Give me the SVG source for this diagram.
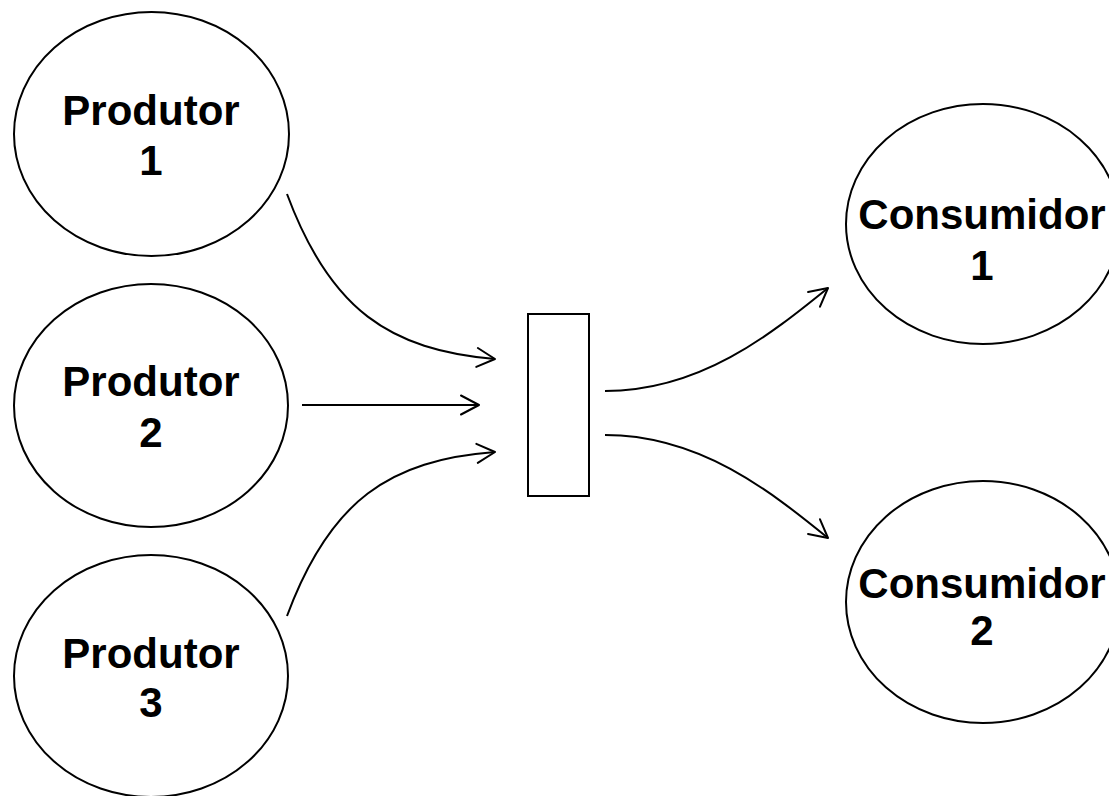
<svg xmlns="http://www.w3.org/2000/svg" width="1109" height="796" viewBox="0 0 1109 796">
<style>
.node{fill:#fff;stroke:#000;stroke-width:2}
.lbl{font-family:"Liberation Sans",Arial,sans-serif;font-weight:bold;font-size:42px;fill:#000;text-anchor:middle}
.edge{fill:none;stroke:#000;stroke-width:2}
</style>
<defs>
<marker id="arr" viewBox="-20 -11 22 22" refX="0" refY="0" markerWidth="22" markerHeight="22" markerUnits="userSpaceOnUse" orient="auto" overflow="visible">
<path d="M-18,-9.5 L0,0 L-18,9.5" fill="none" stroke="#000" stroke-width="2" stroke-linejoin="round" stroke-linecap="round"/>
</marker>
</defs>
<rect width="1109" height="796" fill="#fff"/>
<g id="produtor1"><ellipse class="node" cx="151.5" cy="134" rx="137.5" ry="122"/><text class="lbl" x="151" y="125">Produtor</text><text class="lbl" x="151" y="175">1</text></g>
<g id="produtor2"><ellipse class="node" cx="151" cy="405.5" rx="137" ry="121.5"/><text class="lbl" x="151" y="396">Produtor</text><text class="lbl" x="151" y="447">2</text></g>
<g id="produtor3"><ellipse class="node" cx="151" cy="676" rx="137" ry="121"/><text class="lbl" x="151" y="668">Produtor</text><text class="lbl" x="151" y="717">3</text></g>
<g id="buffer"><rect class="node" x="528" y="314" width="61" height="182"/></g>
<g id="consumidor1"><ellipse class="node" cx="983" cy="224" rx="137" ry="120"/><text class="lbl" x="982" y="229">Consumidor</text><text class="lbl" x="982" y="280">1</text></g>
<g id="consumidor2"><ellipse class="node" cx="983" cy="602" rx="137" ry="121"/><text class="lbl" x="982" y="598">Consumidor</text><text class="lbl" x="982" y="645">2</text></g>
<g id="connectors">
<path class="edge" d="M287,194 C330,310 390,350 495,359" marker-end="url(#arr)"/>
<path class="edge" d="M302,405 L479,405" marker-end="url(#arr)"/>
<path class="edge" d="M287,616 C330,500 390,460 495,452" marker-end="url(#arr)"/>
<path class="edge" d="M605,391 C700,391 770,335 828,288" marker-end="url(#arr)"/>
<path class="edge" d="M605,435 C700,435 770,491 828,538" marker-end="url(#arr)"/>
</g>
</svg>
